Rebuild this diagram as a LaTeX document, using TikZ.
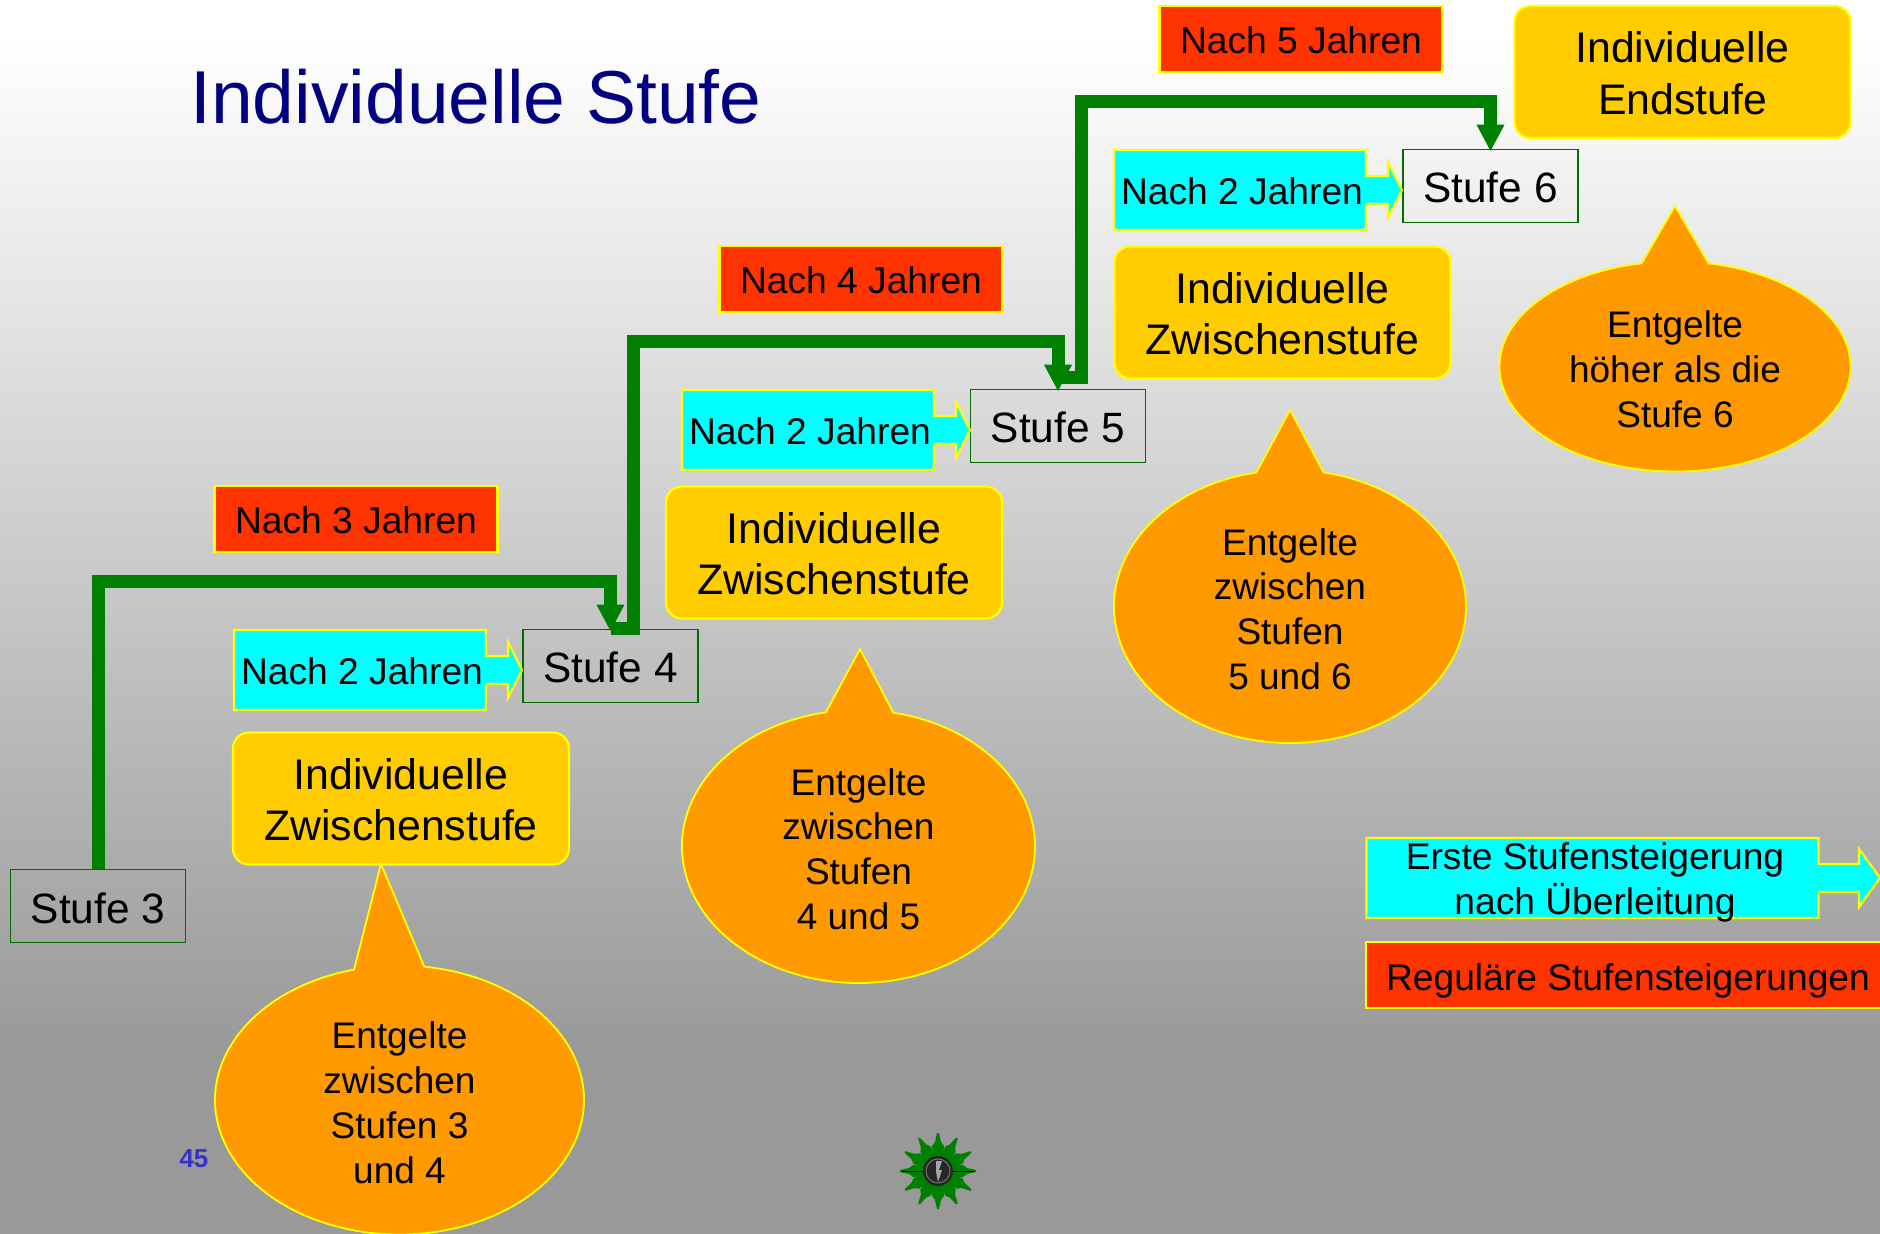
\documentclass[tikz,border=0pt]{standalone}
\usepackage{fontspec}
\setmainfont{Liberation Sans}
\usepackage{tikz}
\usetikzlibrary{arrows.meta, shapes.callouts}
\definecolor{stufered}{RGB}{255,51,0}
\definecolor{stufegold}{RGB}{255,204,0}
\definecolor{stufeorange}{RGB}{255,153,0}
\definecolor{stufegreen}{RGB}{0,128,0}
\definecolor{stufecyan}{RGB}{0,255,255}
\definecolor{stufeyellow}{RGB}{255,255,0}
\definecolor{bgbottom}{RGB}{153,153,153}
\definecolor{titleblue}{RGB}{0,0,128}
\newcommand{\zwtop}{\rule{0pt}{16.7pt}}
\newcommand{\bubbletop}{\rule{0pt}{16pt}}
\tikzset{
    stufebox/.style={draw=stufegreen!85!black, line width=0.95pt, minimum width=87.5pt, minimum height=36.5pt, inner sep=0pt, text height=17pt, text depth=0pt, font=\fontsize{21.2}{25}\selectfont},
    nachred/.style={draw=stufeyellow, fill=stufered, line width=1.1pt, minimum width=141.5pt, minimum height=33pt, inner sep=0pt, text height=15pt, text depth=0pt, font=\fontsize{18.6}{22.4}\selectfont},
    nachcyan/.style={draw=stufeyellow, fill=stufecyan, line width=1.1pt, line join=miter},
    zwischen/.style={draw=stufeyellow, fill=stufegold, line width=1.1pt, rounded corners=8pt, minimum width=168pt, minimum height=66pt, inner sep=0pt, align=center, font=\fontsize{21.4}{25.7}\selectfont},
    entgelt/.style={ellipse callout, draw=stufeyellow, fill=stufeorange, line width=0.9pt, inner sep=0pt, align=center, callout pointer arc=22, font=\fontsize{18.5}{22.4}\selectfont},
    plaintext/.style={inner sep=0pt, align=center, font=\fontsize{18.6}{22.4}\selectfont},
    stufeline/.style={draw=stufegreen, line width=6.5pt, shorten >=-1.5pt, -{Triangle[width=13pt,length=13.5pt]}},
}
\begin{document}
\begin{tikzpicture}[x=0.5pt, y=-0.5pt]
    \useasboundingbox (0,0) rectangle (1880,1234);
    \fill[bgbottom] (0,0) rectangle (1880,1234);
    \fill[white] (0,0) rectangle (1880,40);
    \fill[top color=white, bottom color=bgbottom] (0,40) rectangle (1880,1050);
    \node[inner sep=0pt, text=titleblue, font=\fontsize{37.5}{44}\selectfont] (title) at (476,97) {Individuelle Stufe};
    % steps
    \node[stufebox] (S3) at (98,906) {Stufe 3};
    \node[stufebox] (S4) at (610.5,666) {Stufe 4};
    \node[stufebox] (S5) at (1058,426) {Stufe 5};
    \node[stufebox] (S6) at (1490.5,186) {Stufe 6};
    % regular intervals
    \node[nachred] (J3) at (356,519) {Nach 3 Jahren};
    \node[nachred] (J4) at (861,279) {Nach 4 Jahren};
    \node[nachred] (J5) at (1301,39) {Nach 5 Jahren};
    % cyan arrows
    \foreach \x/\y/\n in {234/630/a, 682/390/b, 1114/150/c} {
        \draw[nachcyan] (\x,\y) -- ++(252,0) -- ++(0,26) -- ++(22,0) -- ++(0,-14) -- ++(14,28) -- ++(-14,28) -- ++(0,-14) -- ++(-22,0) -- ++(0,26) -- ++(-252,0) -- cycle;
        \node[plaintext] (N\n) at (\x+128,\y+41) {Nach 2 Jahren};
    }
    \node[zwischen] (Z1) at (401,798.5) {\zwtop Individuelle\\Zwischenstufe};
    \node[zwischen] (Z2) at (834,552.5) {\zwtop Individuelle\\Zwischenstufe};
    \node[zwischen] (Z3) at (1282.5,312.5) {\zwtop Individuelle\\Zwischenstufe};
    \node[zwischen] (Z4) at (1682.5,72) {\zwtop Individuelle\\Endstufe};
    % speech bubbles
    \node[entgelt, minimum width=184.5pt, minimum height=134.5pt, callout absolute pointer={(381,864)}] (E1) at (399.5,1100) {\bubbletop Entgelte\\zwischen\\Stufen 3\\und 4};
    \node[entgelt, minimum width=176.5pt, minimum height=136.5pt, callout absolute pointer={(860,649)}] (E2) at (858.5,846.5) {\bubbletop Entgelte\\zwischen\\Stufen\\4 und 5};
    \node[entgelt, minimum width=176pt, minimum height=136.5pt, callout absolute pointer={(1290,410)}] (E3) at (1290,606.5) {\bubbletop Entgelte\\zwischen\\Stufen\\5 und 6};
    \node[entgelt, minimum width=175.5pt, minimum height=105pt, callout absolute pointer={(1675,206)}] (E4) at (1675,366.5) {\bubbletop Entgelte\\höher als die\\Stufe 6};
    % connectors
    \coordinate (t34) at (610.5,582);
    \coordinate (k45) at (633.5,342);
    \coordinate (t45) at (1058,342);
    \coordinate (s56) at (1058,378);
    \coordinate (k56) at (1081,102);
    \coordinate (t56) at (1490.5,102);
    \draw[stufeline] (S3.north) |- (t34) -- (S4.north);
    \draw[stufeline] (S4.north) -| (k45) -- (t45) -- (S5.north);
    \draw[stufeline] (s56) -| (k56) -- (t56) -- (S6.north);
    % legend
    \draw[nachcyan] (1366.5,838) -- ++(452,0) -- ++(0,26) -- ++(40.5,0) -- ++(0,-15) -- ++(21,29) -- ++(-21,29) -- ++(0,-15) -- ++(-40.5,0) -- ++(0,26) -- ++(-452,0) -- cycle;
    \node[plaintext] (L1) at (1595,882) {Erste Stufensteigerung\\nach Überleitung};
    \node[nachred, minimum width=262pt] (L2) at (1628,975) {Reguläre Stufensteigerungen};
    \node[inner sep=0pt, text={rgb,255:red,51;green,51;blue,204}, font=\fontsize{13}{15}\bfseries\selectfont] (P) at (194,1159) {45};
    % police star
    \foreach \a in {0,30,...,330} {
        \fill[green!50!black, rotate around={\a:(938,1171)}] (937,1133) -- (939,1133) -- (941,1142) -- (944,1146) -- (943,1158) -- (933,1158) -- (932,1146) -- (935,1142) -- cycle;
    }
    \foreach \a in {0,180} {
        \draw[black, line width=0.5pt, rotate around={\a:(938,1171)}] (952,1171) -- (974,1171);
    }
    \fill[black!85] (938,1171) circle (15);
    \draw[black!55, line width=0.5pt] (938,1171) circle (12);
    \fill[black!35] (936,1161) -- (942,1161) -- (939,1170) -- (942,1170) -- (938,1182) -- (936,1172) -- cycle;
\end{tikzpicture}
\end{document}
